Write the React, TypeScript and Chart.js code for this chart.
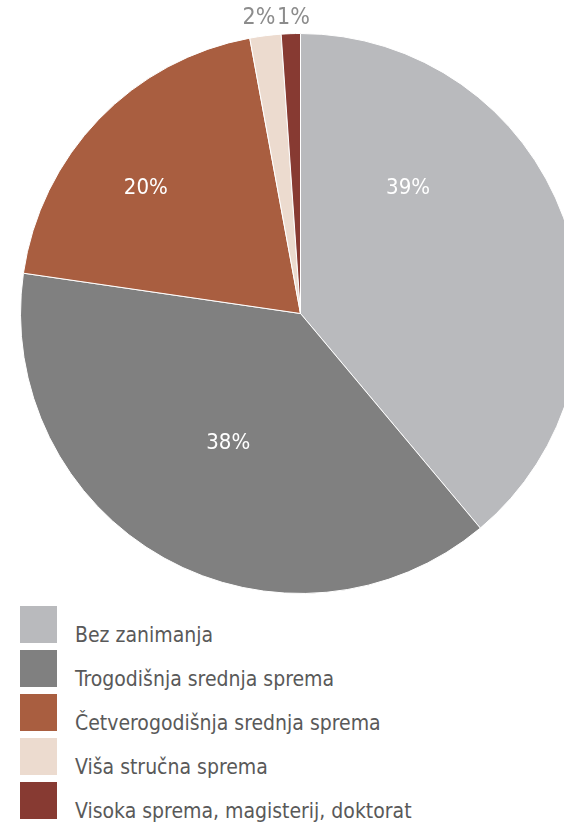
import React, { useEffect, useRef } from "react";
import { Chart, registerables } from "chart.js";

Chart.register(...registerables);

const categories = [
  "Bez zanimanja",
  "Trogodišnja srednja sprema",
  "Četverogodišnja srednja sprema",
  "Viša stručna sprema",
  "Visoka sprema, magisterij, doktorat",
];
const shares = [38.9, 38.4, 19.8, 1.8, 1.1];
const colors = ["#b9babd", "#808080", "#a95e40", "#ecdbcf", "#873a32"];

// label placement (style config)
const labelInside = [true, true, true, false, false];
const labelAngleShiftDeg = [-29.4, 0, -5, -0.8, 0.6];
const labelRadiusFrac = [0.59, 0.53, 0.71, 1.064, 1.054];

const FONT = "'DejaVu Sans Condensed', 'Liberation Sans Narrow', 'Roboto', sans-serif";

const labelPlugin = {
  id: "sliceLabels",
  afterDatasetsDraw(chart: any) {
    const ctx = chart.ctx;
    const meta = chart.getDatasetMeta(0);
    ctx.save();
    ctx.textAlign = "center";
    ctx.textBaseline = "middle";
    meta.data.forEach((arc: any, i: number) => {
      const p = arc.getProps(["x", "y", "startAngle", "endAngle", "outerRadius"], true);
      const a = (p.startAngle + p.endAngle) / 2 + (labelAngleShiftDeg[i] * Math.PI) / 180;
      const r = p.outerRadius * labelRadiusFrac[i];
      const x = p.x + Math.cos(a) * r;
      const y = p.y + Math.sin(a) * r;
      if (labelInside[i]) {
        ctx.fillStyle = "#ffffff";
        ctx.font = `22px ${FONT}`;
      } else {
        ctx.fillStyle = "#8c8c8c";
        ctx.font = `23px ${FONT}`;
      }
      ctx.fillText(Math.round(shares[i]) + "%", x, y);
    });
    ctx.restore();
  },
};

export default function App() {
  const ref = useRef<HTMLCanvasElement | null>(null);
  useEffect(() => {
    document.body.style.margin = "0";
    if (!ref.current) return;
    const chart = new Chart(ref.current, {
      type: "pie",
      data: {
        labels: categories,
        datasets: [
          {
            data: shares,
            backgroundColor: colors,
            borderColor: "#ffffff",
            borderWidth: 1,
          },
        ],
      },
      options: {
        responsive: false,
        animation: false,
        devicePixelRatio: 1,
        layout: { padding: { top: 33, bottom: 0, left: 0, right: 0 } },
        plugins: {
          legend: { display: false },
          tooltip: { enabled: false },
        },
      },
      plugins: [labelPlugin],
    });
    return () => chart.destroy();
  }, []);

  return (
    <div
      style={{
        position: "relative",
        width: 564,
        height: 826,
        overflow: "hidden",
        background: "#ffffff",
      }}
    >
      <canvas
        ref={ref}
        width={601}
        height={594}
        style={{ position: "absolute", left: 0, top: 0, width: 601, height: 594 }}
      />
      <div style={{ position: "absolute", left: 20, top: 606 }}>
        {categories.map((c, i) => (
          <div
            key={c}
            style={{
              display: "flex",
              alignItems: "flex-end",
              height: 37,
              marginBottom: 7,
            }}
          >
            <div style={{ width: 37, height: 37, background: colors[i], flex: "none" }} />
            <div
              style={{
                marginLeft: 18,
                fontFamily: FONT,
                fontSize: 21,
                lineHeight: "21px",
                color: "#595959",
                whiteSpace: "nowrap",
                marginBottom: -3,
              }}
            >
              {c}
            </div>
          </div>
        ))}
      </div>
    </div>
  );
}
